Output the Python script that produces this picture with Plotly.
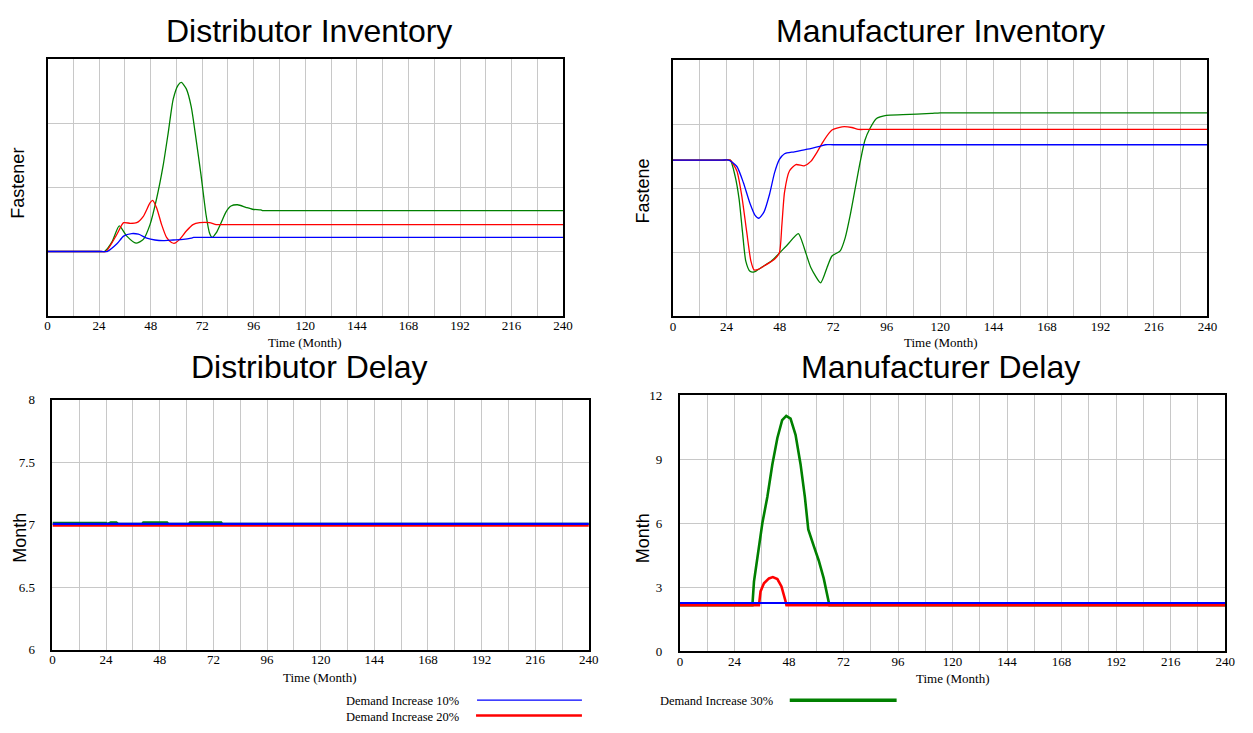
import plotly.graph_objects as go

W, H = 1253, 733

# ---------------- data ----------------
series_names = ["Demand Increase 10%", "Demand Increase 20%", "Demand Increase 30%"]
series_colors = ["#0000ff", "#ff0000", "#008000"]

# Distributor Inventory (arbitrary units, axis unlabeled)
di_t_10 = [0, 25, 27.7, 32.3, 35.4, 39.2, 42.3, 46.2, 50, 53.8, 58.5, 63.1, 66.9, 68, 72, 240]
di_v_10 = [1.0, 1.0, 1.0, 1.12, 1.24, 1.28, 1.27, 1.21, 1.18, 1.17, 1.18, 1.19, 1.21, 1.22, 1.22, 1.22]
di_t_20 = [0, 25, 27.2, 32.3, 35.4, 38.5, 41.5, 44.6, 47.7, 48.9, 50.8, 53.1, 55.4, 57.7, 59.2,
           61.5, 64.6, 67.7, 70.8, 75.4, 78.5, 82, 240]
di_v_20 = [1.0, 1.0, 1.0, 1.27, 1.45, 1.44, 1.45, 1.55, 1.76, 1.80, 1.68, 1.42, 1.22, 1.14, 1.13,
           1.19, 1.32, 1.42, 1.45, 1.45, 1.42, 1.42, 1.42]
di_t_30 = [0, 24, 26.5, 30, 33.4, 36.9, 41.2, 44.6, 47.7, 50.8, 53.8, 56.2, 58.5, 60.8, 62.3,
           64.6, 66.9, 69.2, 71.5, 73.8, 75.4, 76.6, 78.5, 80.8, 83.1, 85.4, 88.5, 92.3,
           95.4, 99.2, 100, 104, 240]
di_v_30 = [1.0, 1.0, 1.0, 1.15, 1.40, 1.24, 1.13, 1.19, 1.42, 1.83, 2.34, 2.86, 3.38, 3.60, 3.64,
           3.54, 3.26, 2.74, 2.18, 1.57, 1.29, 1.22, 1.29, 1.45, 1.62, 1.71, 1.73, 1.69,
           1.66, 1.65, 1.64, 1.64, 1.64]

# Manufacturer Inventory (arbitrary units, axis unlabeled)
mi_t_10 = [0, 22, 25.0, 28.7, 31.6, 34.6, 36.8, 38.6, 40.9, 43.4, 45.6, 47.8, 50.1, 54.5, 60.4,
           66.3, 68.5, 72, 240]
mi_v_10 = [2.44, 2.44, 2.44, 2.34, 2.09, 1.76, 1.58, 1.53, 1.63, 1.91, 2.24, 2.45, 2.54, 2.57, 2.61,
           2.66, 2.68, 2.68, 2.68]
mi_t_20 = [0, 23, 25.7, 28.7, 30.9, 33.1, 35.0, 36.5, 38.3, 41.2, 45.6, 47.8, 48.9, 50.1, 52.3,
           55.2, 58.9, 61.9, 64.8, 67.8, 71.4, 75.9, 80.3, 83.2, 87, 240]
mi_v_20 = [2.44, 2.44, 2.44, 2.27, 1.88, 1.32, 0.86, 0.72, 0.73, 0.79, 0.89, 0.99, 1.42, 1.94, 2.27,
           2.37, 2.35, 2.42, 2.57, 2.75, 2.91, 2.96, 2.95, 2.92, 2.92, 2.92]
mi_t_30 = [0, 23, 25.7, 27.9, 29.7, 31.2, 32.7, 34.6, 36.5, 39.7, 44.2, 47.1, 51.5, 56.3, 58.9,
           61.9, 66.3, 69.2, 71.4, 75.1, 77.3, 79.6, 81.8, 84.0, 86.2, 88.4, 91.4, 95.8,
           103.2, 116, 120, 240]
mi_v_30 = [2.44, 2.44, 2.44, 2.19, 1.83, 1.32, 0.86, 0.70, 0.69, 0.76, 0.86, 0.96, 1.12, 1.29, 1.07,
           0.76, 0.52, 0.76, 0.94, 1.02, 1.22, 1.58, 1.99, 2.40, 2.75, 2.93, 3.09, 3.14,
           3.15, 3.17, 3.18, 3.18]

# Distributor Delay (Month)
dd_t_10 = [0, 240]
dd_v_10 = [7.006, 7.006]
dd_t_20 = [0, 240]
dd_v_20 = [6.993, 6.993]
dd_t_30 = [0, 24, 24.5, 26, 28.6, 29.5, 40, 40.6, 51.3, 52, 61, 61.5, 75.5, 76, 240]
dd_v_30 = [7.014, 7.014, 7.006, 7.018, 7.018, 7.006, 7.006, 7.018, 7.018, 7.006, 7.006,
           7.018, 7.018, 7.006, 7.006]

# Manufacturer Delay (Month)
md_t_10 = [0, 240]
md_v_10 = [2.25, 2.25]
md_t_20 = [0, 34.8, 35.5, 37.0, 39.2, 40.9, 42.9, 44.7, 46.5, 46.9, 240]
md_v_20 = [2.15, 2.15, 2.80, 3.18, 3.41, 3.47, 3.38, 3.03, 2.34, 2.15, 2.15]
md_t_30 = [0, 31.9, 32.6, 34.1, 36.3, 38.5, 40.7, 42.9, 45.0, 46.8, 48.7, 50.9, 53.1, 55.0,
           56.5, 58.9, 61.1, 63.3, 65.5, 65.8, 240]
md_v_30 = [2.15, 2.15, 3.26, 4.33, 6.01, 7.24, 8.77, 10.0, 10.84, 11.04, 10.91, 10.15, 8.77,
           7.24, 5.71, 4.94, 4.25, 3.41, 2.34, 2.15, 2.15]

x_tickvals = list(range(0, 241, 12))
x_ticktext = [str(v) if v % 24 == 0 else "" for v in x_tickvals]

panel_titles = ["Distributor Inventory", "Manufacturer Inventory",
                "Distributor Delay", "Manufacturer Delay"]
y_titles = ["Fastener", "Fastene", "Month", "Month"]
x_title = "Time (Month)"

dd_ticks = [6, 6.5, 7, 7.5, 8]
md_ticks = [0, 3, 6, 9, 12]

# ---------------- layout helpers ----------------
def dx(px0, px1):
    return [px0 / W, px1 / W]

def dy(py_top, py_bot):
    return [1 - py_bot / H, 1 - py_top / H]

SERIF = "Liberation Serif, Times New Roman, serif"
SANS = "Liberation Sans, Arial, sans-serif"
GRID = "#c8c8c8"

fig = go.Figure()

panels = [
    # (axis suffix, t arrays, v arrays, widths, line shape)
    ("", [di_t_10, di_t_20, di_t_30], [di_v_10, di_v_20, di_v_30], [1.3, 1.3, 1.3], "spline"),
    ("2", [mi_t_10, mi_t_20, mi_t_30], [mi_v_10, mi_v_20, mi_v_30], [1.3, 1.3, 1.3], "spline"),
    ("3", [dd_t_10, dd_t_20, dd_t_30], [dd_v_10, dd_v_20, dd_v_30], [2.2, 2.2, 2.2], "linear"),
    ("4", [md_t_10, md_t_20, md_t_30], [md_v_10, md_v_20, md_v_30], [2.0, 2.6, 2.6], "linear"),
]

for suffix, ts, vs, widths, shape in panels:
    # draw order: 30%, 20%, 10% (blue on top)
    for i in [2, 1, 0]:
        line = dict(color=series_colors[i], width=widths[i], shape=shape)
        if shape == "spline":
            line["smoothing"] = 0.6
        fig.add_trace(go.Scatter(
            x=ts[i], y=vs[i], mode="lines", line=line,
            name=series_names[i], showlegend=False,
            xaxis="x" + suffix, yaxis="y" + suffix, hoverinfo="x+y",
        ))

def xaxis(domain, anchor):
    return dict(domain=domain, anchor=anchor, range=[0, 240],
                tickvals=x_tickvals, ticktext=x_ticktext,
                tickfont=dict(family=SERIF, size=13, color="black"),
                showgrid=True, gridcolor=GRID, gridwidth=1,
                showline=True, linecolor="black", linewidth=2, mirror=True,
                zeroline=False, ticks="", ticklabelstandoff=-3)

def yaxis(domain, anchor, rng, tickvals, show_labels):
    return dict(domain=domain, anchor=anchor, range=rng,
                tickvals=tickvals, ticktext=[("%g" % v) for v in tickvals],
                showticklabels=show_labels,
                tickfont=dict(family=SERIF, size=13, color="black"),
                showgrid=True, gridcolor=GRID, gridwidth=1,
                showline=True, linecolor="black", linewidth=2, mirror=True,
                zeroline=False, ticks="outside", ticklen=13,
                tickcolor="rgba(255,255,255,0)")

fig.update_layout(
    width=W, height=H,
    margin=dict(l=0, r=0, t=0, b=0),
    paper_bgcolor="white", plot_bgcolor="white",
    showlegend=False,
    xaxis=xaxis(dx(45, 566), "y"),
    yaxis=yaxis(dy(53.5, 315), "x", [0, 4], [0, 1, 2, 3, 4], False),
    xaxis2=xaxis(dx(677, 1217), "y2"),
    yaxis2=yaxis(dy(54.5, 315.5), "x2", [0, 4], [0, 1, 2, 3, 4], False),
    xaxis3=xaxis(dx(50, 592), "y3"),
    yaxis3=yaxis(dy(401, 656), "x3", [6, 8], dd_ticks, True),
    xaxis4=xaxis(dx(684, 1235), "y4"),
    yaxis4=yaxis(dy(396.5, 657.5), "x4", [0, 12], md_ticks, True),
)

ann = []
def add_text(text, px, py, size, family, angle=0, xanchor="center"):
    ann.append(dict(text=text, x=px / W, y=1 - py / H, xref="paper", yref="paper",
                    showarrow=False, xanchor=xanchor, yanchor="middle",
                    textangle=angle, font=dict(family=family, size=size, color="black")))

# panel titles
add_text(panel_titles[0], 309, 25, 32, SANS)
add_text(panel_titles[1], 947, 25, 32, SANS)
add_text(panel_titles[2], 310, 368, 32, SANS)
add_text(panel_titles[3], 947, 368, 32, SANS)
# y titles
add_text(y_titles[0], 15.5, 180, 18, SANS, -90)
add_text(y_titles[1], 647, 188, 18, SANS, -90)
add_text(y_titles[2], 17, 542, 18, SANS, -90)
add_text(y_titles[3], 647, 542, 18, SANS, -90)
# x titles
add_text(x_title, 305.5, 342, 13, SERIF)
add_text(x_title, 947.5, 342, 13, SERIF)
add_text(x_title, 320, 684, 13, SERIF)
add_text(x_title, 960, 686, 13, SERIF)
# legend text
add_text(series_names[0], 344.5, 709, 12.5, SERIF, xanchor="left")
add_text(series_names[1], 344.5, 724.5, 12.5, SERIF, xanchor="left")
add_text(series_names[2], 661.5, 709, 12.5, SERIF, xanchor="left")

fig.update_layout(annotations=ann)

# legend sample lines
legend_lines = [
    (479, 585, 707.7, series_colors[0], 1.3),
    (478, 585, 723.3, series_colors[1], 2.6),
    (795, 903, 707.7, series_colors[2], 3.5),
]
shapes = []
for x0, x1, yy, c, w in legend_lines:
    shapes.append(dict(type="line", xref="paper", yref="paper",
                       x0=x0 / W, x1=x1 / W, y0=1 - yy / H, y1=1 - yy / H,
                       line=dict(color=c, width=w)))
fig.update_layout(shapes=shapes)

fig.write_html("out.html")
